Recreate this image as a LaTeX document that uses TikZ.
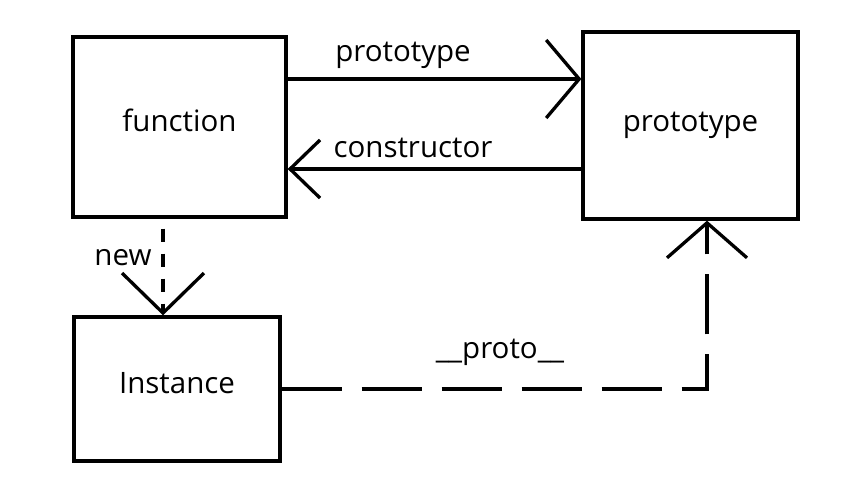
\documentclass[tikz,border=0pt]{standalone}
\usepackage{fontspec}
\setmainfont{Open Sans}
\usetikzlibrary{arrows.meta}
\begin{document}
\begin{tikzpicture}[x=1pt,y=-1pt,
  box/.style={draw, line width=3.3pt, inner sep=0pt, font=\fontsize{29.5}{32}\selectfont},
  lbl/.style={inner sep=0pt, font=\fontsize{29.5}{32}\selectfont},
  conn/.style={line width=3.3pt},
  vtip/.style 2 args={-{Straight Barb[length=#1pt,width=#2pt,line width=3.3pt]}}]
\useasboundingbox (0,0) rectangle (868,479);
\fill[white] (0,0) rectangle (868,479);
\node[box, minimum width=213pt, minimum height=180pt] (function) at (179.5,127) {\raisebox{14pt}{function}};
\node[box, minimum width=215pt, minimum height=187pt] (prototype) at (690.5,125.5) {\raisebox{-12pt}{prototype}};
\node[box, minimum width=206pt, minimum height=144pt] (instance) at (177,389) {\raisebox{12pt}{Instance}};
\coordinate (ya) at (0,79);
\coordinate (yb) at (0,169);
\coordinate (xn) at (163,0);
\coordinate (xp) at (707,0);
\draw[conn, vtip={33}{78}] (function.east |- ya) -- (prototype.west |- ya);
\draw[conn, vtip={30}{58}] (prototype.west |- yb) -- (function.east |- yb);
\draw[conn, vtip={40}{82}, dash pattern=on 13pt off 12pt, dash phase=-10pt] (function.south -| xn) -- (instance.north -| xn);
\draw[conn, vtip={35}{80}, dash pattern=on 60pt off 20pt] (instance.east) -- (instance.east -| xp) -- (prototype.south -| xp);
\node[lbl] (lproto) at (403,55) {prototype};
\node[lbl] (lcons) at (413,148) {constructor};
\node[lbl] (lnew) at (123,258) {new};
\node[lbl] (lpp) at (500,352) {\_\_proto\_\_};
\end{tikzpicture}
\end{document}
